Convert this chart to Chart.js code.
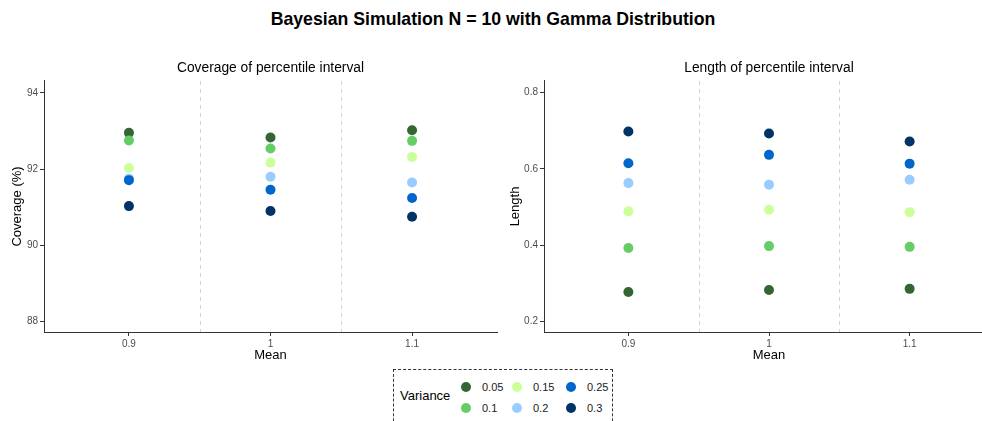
<!DOCTYPE html>
<html>
<head>
<meta charset="utf-8">
<script src="https://cdn.jsdelivr.net/npm/chart.js@4"></script>
<style>
  body { margin: 0; width: 982px; height: 421px; overflow: hidden; background: #fff;
         font-family: "Liberation Sans", Arial, sans-serif; position: relative; }
  #title { position: absolute; left: 0; width: 986px; top: 8px; text-align: center;
           font-size: 17.7px; font-weight: bold; color: #000; line-height: 23px; }
  .panel { position: absolute; top: 50px; }
  #legend { position: absolute; left: 393px; top: 369px; width: 218px; height: 70px;
            border: 1px dashed #333; }
  #legend .head { position: absolute; left: 6px; top: 18px; font-size: 13px; }
  #legend .dot { position: absolute; width: 10px; height: 10px; border-radius: 50%; }
  #legend .lab { position: absolute; font-size: 11px; color: #1a1a1a; }
</style>
</head>
<body>
<div id="title">Bayesian Simulation N = 10 with Gamma Distribution</div>
<div class="panel" style="left:0"><canvas id="coverage" width="500" height="315"></canvas></div>
<div class="panel" style="left:500px"><canvas id="length" width="497" height="315"></canvas></div>
<div id="legend"><div class="head">Variance</div></div>
<script>
// x categories (mean of the gamma prior) and variance groups
const means = ['0.9', '1', '1.1'];
const variances = ['0.05', '0.1', '0.15', '0.2', '0.25', '0.3'];
const colors = ['#336633', '#66cc66', '#ccff99', '#99ccff', '#0066cc', '#003366'];

// coverage (%) per variance, one value per mean
const coverage = [
  [92.95, 92.83, 93.02],
  [92.75, 92.54, 92.74],
  [92.03, 92.17, 92.32],
  [91.75, 91.80, 91.65],
  [91.71, 91.46, 91.24],
  [91.03, 90.90, 90.75]
];

// interval length per variance, one value per mean
const lengths = [
  [0.278, 0.283, 0.286],
  [0.393, 0.398, 0.396],
  [0.489, 0.493, 0.487],
  [0.563, 0.559, 0.572],
  [0.615, 0.637, 0.614],
  [0.698, 0.693, 0.672]
];

const coverageTicks = [88, 90, 92, 94];
const lengthTicks = [0.2, 0.4, 0.6, 0.8];
const dividers = [1.5, 2.5];

// dashed separators between the mean groups
const dividerPlugin = {
  id: 'dividers',
  beforeDatasetsDraw(chart) {
    const { ctx, chartArea, scales: { x } } = chart;
    ctx.save();
    ctx.strokeStyle = '#d4d4d4';
    ctx.lineWidth = 1;
    ctx.setLineDash([4, 4]);
    dividers.forEach(v => {
      const px = Math.round(x.getPixelForValue(v)) + 0.5;
      ctx.beginPath();
      ctx.moveTo(px, chartArea.top);
      ctx.lineTo(px, chartArea.bottom);
      ctx.stroke();
    });
    ctx.restore();
  }
};

function panel(id, title, yTitle, values, yMin, yMax, yTicks, yTitlePad) {
  const datasets = variances.map((v, i) => ({
    label: v,
    data: values[i].map((y, j) => ({ x: j + 1, y })),
    backgroundColor: colors[i],
    borderWidth: 0,
    pointRadius: 5,
    order: -i
  }));
  return new Chart(document.getElementById(id), {
    type: 'scatter',
    data: { datasets },
    plugins: [dividerPlugin],
    options: {
      responsive: false,
      animation: false,
      devicePixelRatio: 1,
      layout: { padding: { left: 0, right: 3, top: 0, bottom: 0 }, autoPadding: false },
      plugins: {
        legend: { display: false },
        tooltip: { enabled: false },
        // panel heading centred over the plotting area only
        title: {
          display: true, text: title, color: '#000', fullSize: false,
          font: { family: '"Liberation Sans", Arial', size: 13.8, weight: 'normal' },
          padding: { top: 9.7, bottom: 4.7 }
        }
      },
      scales: {
        x: {
          type: 'linear', min: 0.4, max: 3.6,
          afterBuildTicks: s => { s.ticks = means.map((m, i) => ({ value: i + 1 })); },
          afterFit: s => { s.height = 33; },
          ticks: {
            callback: v => means[v - 1],
            color: '#4d4d4d', padding: 2,
            font: { family: '"Liberation Sans", Arial', size: 10 }
          },
          grid: { drawOnChartArea: false, tickLength: 4, tickColor: '#333' },
          border: { color: '#333', width: 1 },
          title: {
            display: true, text: 'Mean', color: '#000',
            font: { family: '"Liberation Sans", Arial', size: 13 },
            padding: { top: 0, bottom: 2.2 }
          }
        },
        y: {
          min: yMin, max: yMax,
          afterBuildTicks: s => { s.ticks = yTicks.map(value => ({ value })); },
          afterFit: s => { s.width = 44; },
          ticks: {
            color: '#4d4d4d', padding: 2,
            font: { family: '"Liberation Sans", Arial', size: 10 }
          },
          grid: { drawOnChartArea: false, tickLength: 4, tickColor: '#333' },
          border: { color: '#333', width: 1 },
          title: {
            display: true, text: yTitle, color: '#000',
            font: { family: '"Liberation Sans", Arial', size: 13 },
            padding: { top: yTitlePad, bottom: 0 }
          }
        }
      }
    }
  });
}

panel('coverage', 'Coverage of percentile interval', 'Coverage (%)', coverage, 87.73, 94.31, coverageTicks, 9.5);
panel('length', 'Length of percentile interval', 'Length', lengths, 0.173, 0.8306, lengthTicks, 7.2);

// shared legend, filled column by column
const legend = document.getElementById('legend');
const colX = [67, 118, 172];
const rowY = [12, 32.5];
variances.forEach((v, i) => {
  const col = Math.floor(i / 2), row = i % 2;
  const dot = document.createElement('div');
  dot.className = 'dot';
  dot.style.background = colors[i];
  dot.style.left = colX[col] + 'px';
  dot.style.top = rowY[row] + 'px';
  legend.appendChild(dot);
  const lab = document.createElement('div');
  lab.className = 'lab';
  lab.textContent = v;
  lab.style.left = (colX[col] + 21) + 'px';
  lab.style.top = (rowY[row] - 1) + 'px';
  legend.appendChild(lab);
});
</script>
</body>
</html>
